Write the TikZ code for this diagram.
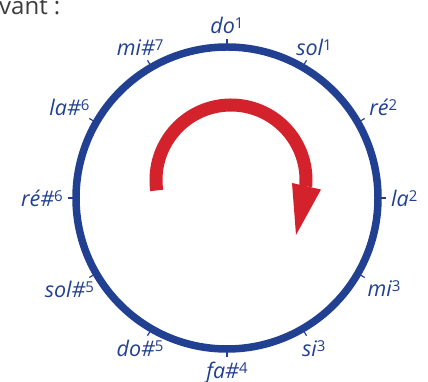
\documentclass[tikz,border=0pt]{standalone}
\usepackage{fontspec}
\setmainfont{Open Sans}
\usetikzlibrary{positioning}

\definecolor{noteblue}{RGB}{34,64,145}
\definecolor{arrowred}{RGB}{212,34,44}
\definecolor{textgray}{RGB}{60,60,60}

% exposant des octaves
\newcommand{\octave}[1]{{\fontsize{15}{15}\selectfont\upshape\raisebox{5pt}{#1}}}

\begin{document}
\begin{tikzpicture}[
  x=1pt, y=1pt,
  note/.style={
    text=noteblue,
    inner sep=1pt,
    font=\fontsize{21.5}{24}\selectfont\itshape
  },
  ring/.style={draw=noteblue, line width=7.5pt},
  tick/.style={draw=noteblue, line width=1.2pt},
  turn/.style={draw=arrowred, line width=13pt}
]
\useasboundingbox (0,0) rectangle (428,382);

\node[anchor=base west, inner sep=0pt, text=textgray,
  font=\fontsize{24}{28}\selectfont] (intro) at (-1,367) {vant :};

\coordinate (centre) at (227,184);
\draw[ring] (centre) circle (151);

\begin{scope}[shift={(centre)}]
\foreach \ang/\nom/\txt in {90/do1/do\octave{1}, 60/sol1/sol\octave{1},
    30/re2/ré\octave{2}, 0/la2/la\octave{2}, -30/mi3/mi\octave{3},
    -60/si3/si\octave{3}, -90/fa4/fa\#\octave{4}, -120/do5/do\#\octave{5},
    -150/sol5/sol\#\octave{5}, 180/re6/ré\#\octave{6},
    150/la6/la\#\octave{6}, 120/mi7/mi\#\octave{7}}{
  \draw[tick] (\ang:151) -- (\ang:159);
  \node[note, anchor=\ang+180] (\nom) at (\ang:163) {\txt};
}
\end{scope}

% fleche du sens de parcours
\begin{scope}[shift={(231,202)}]
\draw[turn] (188:75) arc[start angle=188, end angle=-5, radius=75];
\fill[arrowred] (61,-3) -- (90,-9.5) -- (65,-55) -- cycle;
\end{scope}

\end{tikzpicture}
\end{document}
